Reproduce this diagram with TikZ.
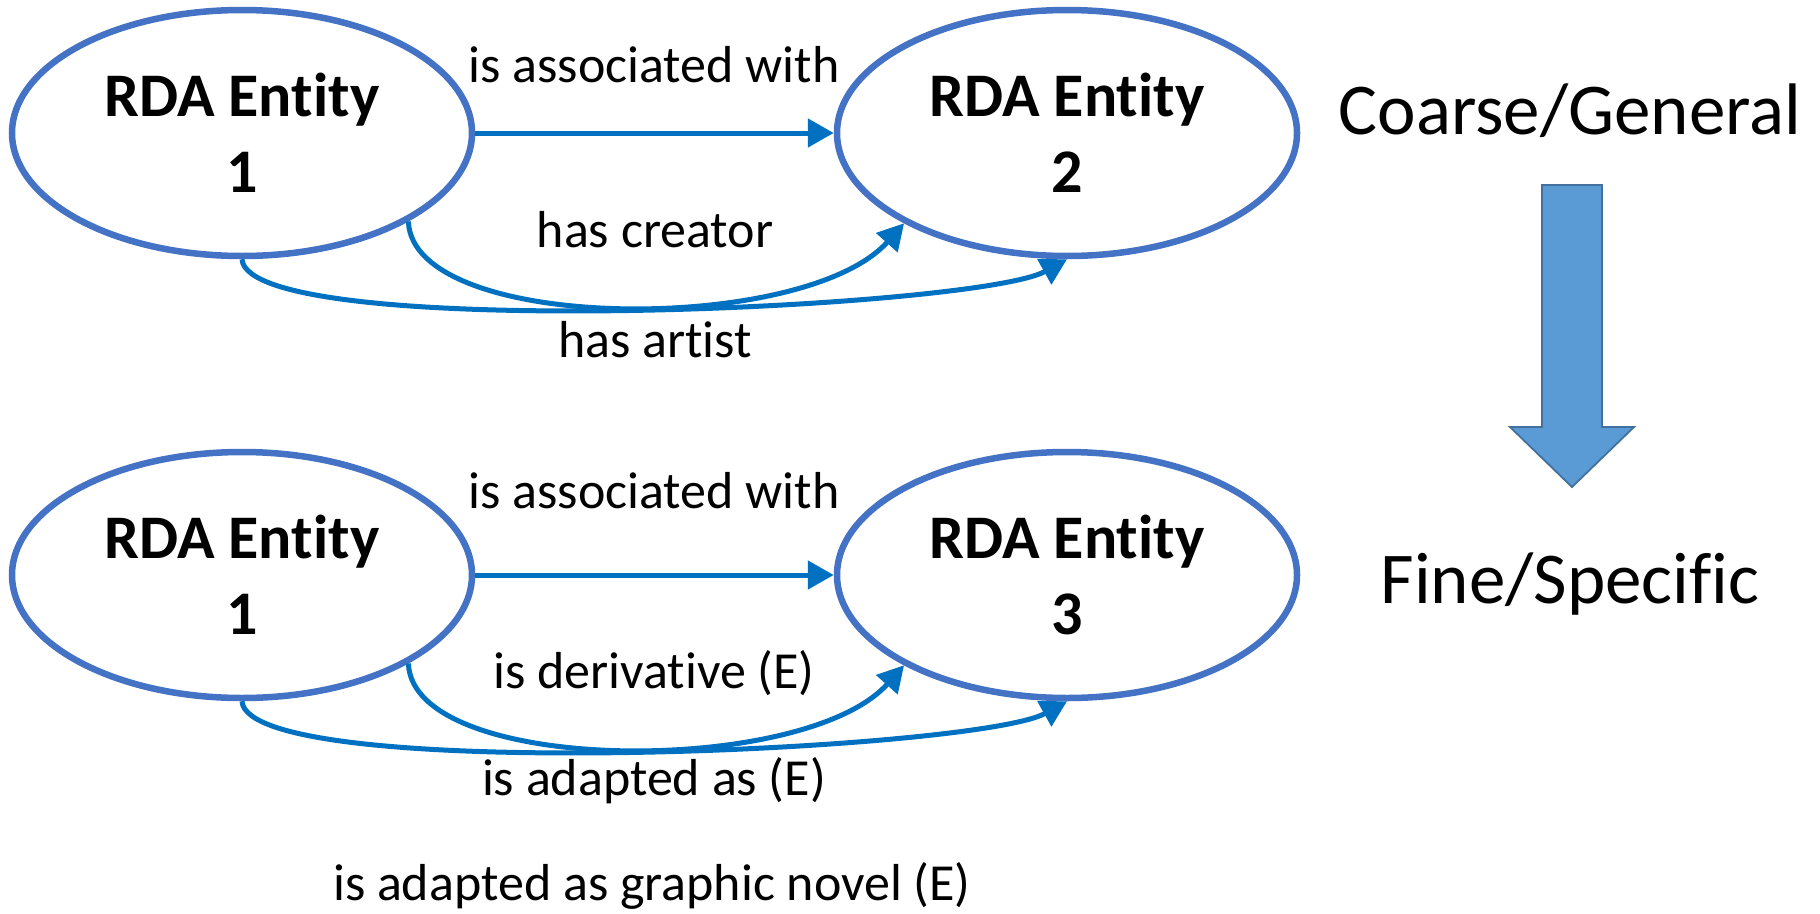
\documentclass[tikz,border=0pt]{standalone}
\usepackage{fontspec}
\setmainfont{Carlito}[Ligatures=NoCommon]
\usetikzlibrary{arrows.meta,shapes.geometric}
\definecolor{ellblue}{HTML}{4472C4}
\definecolor{arrblue}{HTML}{0070C0}
\definecolor{bigfill}{HTML}{5B9BD5}
\definecolor{bigline}{HTML}{41719C}
\begin{document}
\begin{tikzpicture}[x=1pt,y=-1pt,
  entity/.style={ellipse, draw=ellblue, line width=6.5pt, minimum width=460pt,
    minimum height=246pt, inner sep=0pt, align=center,
    font=\bfseries\fontsize{62}{76}\selectfont},
  rel/.style={draw=arrblue, line width=5pt, -{Triangle[length=26pt,width=28pt]}},
  lbl/.style={font=\fontsize{52}{62}\selectfont, anchor=base, inner sep=0pt},
  side/.style={font=\fontsize{73}{88}\selectfont, anchor=base, inner sep=0pt}]
\useasboundingbox (0,0) rectangle (1820,913);

% top row
\node[entity] (a1) at (242,133) {RDA Entity\\1};
\node[entity] (a2) at (1067,133) {RDA Entity\\2};
\draw[rel] (a1.east) -- (a2.west);
\draw[rel] (a1.-28) .. controls +(4,112) and +(-100,112) .. (a2.-151);
\draw[rel] (a1.south) .. controls +(6,83) and +(-90,50) .. (a2.south);
\node[lbl] (l1) at (654,82) {is associated with};
\node[lbl] (l2) at (655,247) {has creator};
\node[lbl] (l3) at (655,357) {has artist};

% bottom row
\node[entity] (b1) at (242,575) {RDA Entity\\1};
\node[entity] (b2) at (1067,575) {RDA Entity\\3};
\draw[rel] (b1.east) -- (b2.west);
\draw[rel] (b1.-28) .. controls +(4,112) and +(-100,112) .. (b2.-151);
\draw[rel] (b1.south) .. controls +(6,83) and +(-90,50) .. (b2.south);
\node[lbl] (m1) at (654,508) {is associated with};
\node[lbl] (m2) at (654,688) {is derivative (E)};
\node[lbl] (m3) at (654,795) {is adapted as (E)};
\node[lbl] (m4) at (652,900) {is adapted as graphic novel (E)};

% right side
\node[side] (coarse) at (1570,134) {Coarse/General};
\node[side] (fine) at (1570,603) {Fine/Specific};
\draw[fill=bigfill, draw=bigline, line width=1.8pt, line join=miter]
  (1542,185) -- (1602,185) -- (1602,427) -- (1634,427) -- (1572,487)
  -- (1510,427) -- (1542,427) -- cycle;
\end{tikzpicture}
\end{document}
